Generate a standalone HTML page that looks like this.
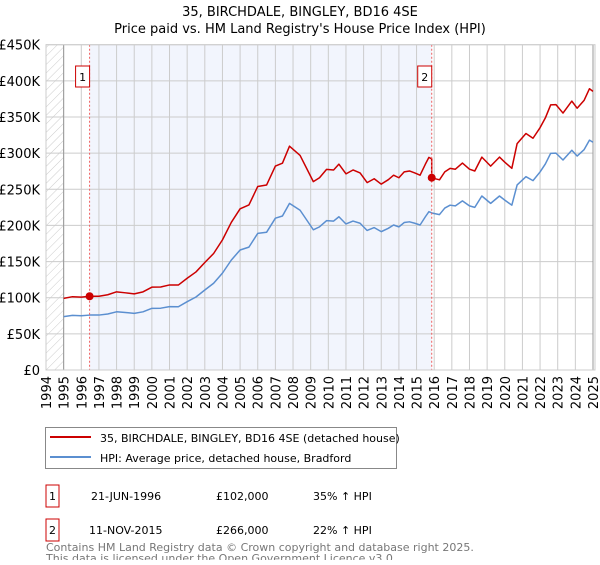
<!DOCTYPE html>
<html><head><meta charset="utf-8"><style>
body{margin:0;background:#fff;font-family:"Liberation Sans","DejaVu Sans",sans-serif;}
svg text{font-family:"DejaVu Sans","Liberation Sans",sans-serif;}
</style></head><body>
<svg id="c" width="600" height="560" xmlns="http://www.w3.org/2000/svg">
<defs><pattern id="hatch" width="6" height="6" patternUnits="userSpaceOnUse" patternTransform="rotate(45)"><line x1="0" y1="0" x2="0" y2="6" stroke="#ccc" stroke-width="1"/></pattern></defs>
<text x="300" y="16" text-anchor="middle" font-size="13" fill="#000">35, BIRCHDALE, BINGLEY, BD16 4SE</text>
<text x="300" y="33" text-anchor="middle" font-size="13" fill="#000">Price paid vs. HM Land Registry's House Price Index (HPI)</text>
<g id="plot"></g>
<g>
<rect x="45.5" y="427.5" width="351" height="41" fill="#fff" stroke="#888"/>
<line x1="50" y1="437" x2="91" y2="437" stroke="#cc0000" stroke-width="2"/>
<text x="100" y="442" font-size="11">35, BIRCHDALE, BINGLEY, BD16 4SE (detached house)</text>
<line x1="50" y1="457" x2="91" y2="457" stroke="#5b8fd0" stroke-width="2"/>
<text x="100" y="462" font-size="11">HPI: Average price, detached house, Bradford</text>
</g>
<g font-size="11">
<rect x="46" y="485" width="13" height="22" fill="#fff" stroke="#cc0000"/>
<text x="52.5" y="500" text-anchor="middle">1</text>
<text x="91" y="500">21-JUN-1996</text><text x="216" y="500">£102,000</text><text x="313" y="500">35% ↑ HPI</text>
<rect x="46" y="519" width="13" height="22" fill="#fff" stroke="#cc0000"/>
<text x="52.5" y="534" text-anchor="middle">2</text>
<text x="89" y="534">11-NOV-2015</text><text x="216" y="534">£266,000</text><text x="313" y="534">22% ↑ HPI</text>
</g>
<text x="46" y="551" font-size="11" fill="#777">Contains HM Land Registry data © Crown copyright and database right 2025.</text>
<text x="46" y="562" font-size="11" fill="#777">This data is licensed under the Open Government Licence v3.0.</text>
</svg>
<script>
const hpiYears=[1995.0,1995.5,1996.0,1996.5,1997.0,1997.5,1998.0,1998.5,1999.0,1999.5,2000.0,2000.5,2001.0,2001.5,2002.0,2002.5,2003.0,2003.5,2004.0,2004.5,2005.0,2005.5,2006.0,2006.5,2007.0,2007.4,2007.8,2008.4,2009.15,2009.5,2009.9,2010.3,2010.6,2011.0,2011.4,2011.8,2012.2,2012.6,2013.0,2013.4,2013.7,2014.0,2014.3,2014.6,2014.9,2015.2,2015.5,2015.7,2015.9,2016.3,2016.6,2016.9,2017.2,2017.6,2018.0,2018.3,2018.7,2019.2,2019.7,2020.0,2020.4,2020.7,2021.2,2021.6,2022.0,2022.3,2022.6,2022.9,2023.3,2023.8,2024.1,2024.5,2024.8,2025.0];
const hpiValues=[73.8,75.5,75,76,76,77.5,80.5,79.5,78.4,80.5,85.3,85.5,87.6,87.5,94.5,101,110.7,120,134,152,166,170,189,190.5,210,213,230.5,221,194,198,206.6,206,212,202,206,203,193,197,191.4,196,200.6,198,204,205,203,200.6,212,219,217,215,224,228,227,234,227,225,240.7,230.5,240.7,235,228,256,267.4,262,274,285,299.7,300,290.5,304,296,305,318,315];
const saleLabels=["1","2"];
const saleDates=[1996.47,2015.86];
const salePrices=[102,266];
const yTicks=[0,50,100,150,200,250,300,350,400,450];
const yTickLabels=["£0","£50K","£100K","£150K","£200K","£250K","£300K","£350K","£400K","£450K"];
const xYears=[1994,1995,1996,1997,1998,1999,2000,2001,2002,2003,2004,2005,2006,2007,2008,2009,2010,2011,2012,2013,2014,2015,2016,2017,2018,2019,2020,2021,2022,2023,2024,2025];

const X0=46,X1=593,Y0=370,Y1=44.7;
const xs=y=>X0+(y-1994)*(X1-X0)/31;
const ys=v=>Y0-v*(Y0-Y1)/450;
const NS="http://www.w3.org/2000/svg";
const g=document.getElementById('plot');
function mk(t,a){const e=document.createElementNS(NS,t);for(const k in a)e.setAttribute(k,a[k]);g.appendChild(e);return e;}
function hpiAt(t){for(let i=0;i<hpiYears.length-1;i++){if(t>=hpiYears[i]&&t<=hpiYears[i+1]){const f=(t-hpiYears[i])/(hpiYears[i+1]-hpiYears[i]);return hpiValues[i]+f*(hpiValues[i+1]-hpiValues[i]);}}return hpiValues[0];}

let e;
e=mk('rect',{x:xs(saleDates[0]),y:Y1,width:xs(saleDates[1])-xs(saleDates[0]),height:Y0-Y1,fill:'#f2f5fd'});


e=mk('rect',{x:X0,y:Y1,width:xs(1995)-X0,height:Y0-Y1,fill:'url(#hatch)'});


yTicks.forEach((v,i)=>{
 e=mk('line',{x1:X0,x2:X1,y1:ys(v),y2:ys(v),stroke:'#ccc','stroke-width':1});
 
 
 e=mk('text',{x:40,y:ys(v)+5,'text-anchor':'end','font-size':13,fill:'#000'});e.textContent=yTickLabels[i];
 
 
});
xYears.forEach(yr=>{
 e=mk('line',{x1:xs(yr),x2:xs(yr),y1:Y1,y2:Y0,stroke:'#ccc','stroke-width':1});
 
 
 e=mk('text',{x:0,y:0,transform:`translate(${xs(yr)+5},376) rotate(-90)`,'text-anchor':'end','font-size':13,fill:'#000'});e.textContent=yr;
 
 
});
e=mk('line',{x1:xs(1995),x2:xs(1995),y1:Y1,y2:Y0,stroke:'#999','stroke-width':1});


e=mk('line',{x1:X1,x2:X1,y1:Y1,y2:Y0,stroke:'#999','stroke-width':1});



e=mk('polyline',{points:hpiYears.map((t,i)=>xs(t)+','+ys(hpiValues[i])).join(' '),fill:'none',stroke:'#5b8fd0','stroke-width':1.5,'stroke-linejoin':'round'});


const f1=salePrices[0]/hpiAt(saleDates[0]),f2=salePrices[1]/hpiAt(saleDates[1]);
const pts=[];
hpiYears.forEach((t,i)=>{
 if(t<saleDates[1])pts.push([t,hpiValues[i]*f1]);
 if(i<hpiYears.length-1&&t<saleDates[1]&&hpiYears[i+1]>=saleDates[1]){pts.push([saleDates[1],hpiAt(saleDates[1])*f1]);pts.push([saleDates[1],salePrices[1]]);}
 if(t>saleDates[1])pts.push([t,hpiValues[i]*f2]);
});
e=mk('polyline',{points:pts.map(p=>xs(p[0])+','+ys(p[1])).join(' '),fill:'none',stroke:'#cc0000','stroke-width':1.5,'stroke-linejoin':'round'});



saleDates.forEach((d,i)=>{
 e=mk('line',{x1:xs(d),x2:xs(d),y1:Y1,y2:Y0,stroke:'#f06060','stroke-width':1,'stroke-dasharray':'2,2'});
 
 
 e=mk('circle',{cx:xs(d),cy:ys(salePrices[i]),r:4,fill:'#cc0000'});
 
 
 e=mk('rect',{x:xs(d)-14,y:66,width:14,height:21,fill:'#fff',stroke:'#cc0000'});
 
 
 e=mk('text',{x:xs(d)-7,y:81,'text-anchor':'middle','font-size':11,fill:'#000'});e.textContent=saleLabels[i];
 
 
});
e=mk('rect',{x:X0,y:Y1,width:X1-X0+2,height:Y0-Y1,fill:'none',stroke:'#ccc'});


</script>
</body></html>
